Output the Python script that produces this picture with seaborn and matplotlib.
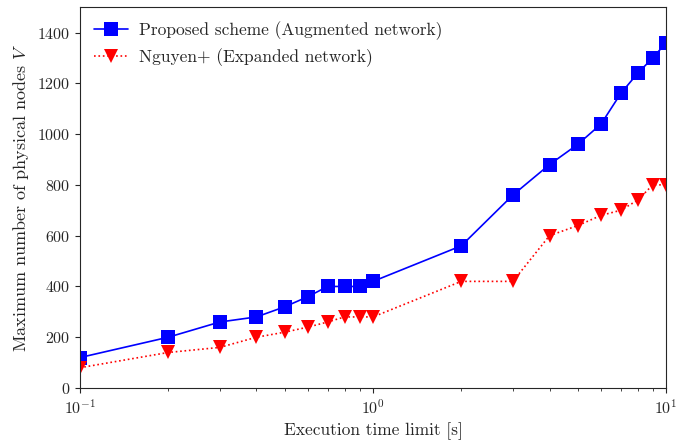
import pandas as pd
import seaborn as sns
import matplotlib.pyplot as plt

# execution time limits [s]
time_limit = [0.1, 0.2, 0.3, 0.4, 0.5, 0.6, 0.7, 0.8, 0.9, 1,
              2, 3, 4, 5, 6, 7, 8, 9, 10]
proposed = [120, 200, 260, 280, 320, 360, 400, 400, 400, 420,
            560, 760, 880, 960, 1040, 1160, 1240, 1300, 1360]
nguyen = [80, 140, 160, 200, 220, 240, 260, 280, 280, 280,
          420, 420, 600, 640, 680, 700, 740, 800, 800]

sns.set_style("ticks")
plt.rcParams["font.family"] = "serif"
plt.rcParams["font.serif"] = ["cmr10"]
plt.rcParams["mathtext.fontset"] = "cm"
plt.rcParams["axes.formatter.use_mathtext"] = True
plt.rcParams["axes.unicode_minus"] = False

df = pd.DataFrame({"t": time_limit, "proposed": proposed, "nguyen": nguyen})

fig = plt.figure(figsize=(6.77, 4.45), dpi=100)
ax = fig.add_axes([0.118, 0.128, 0.866, 0.856])

sns.lineplot(data=df, x="t", y="proposed", ax=ax, color="blue", marker="s",
             markersize=10.5, markeredgewidth=0, linewidth=1.2,
             label="Proposed scheme (Augmented network)")
sns.lineplot(data=df, x="t", y="nguyen", ax=ax, color="red", marker="v",
             markersize=10.5, markeredgewidth=0, linewidth=1.2, linestyle=":",
             label="Nguyen+ (Expanded network)")

ax.set_xscale("log")
ax.set_xlim(0.1, 10)
ax.set_ylim(0, 1500)
ax.set_yticks(range(0, 1401, 200))
ax.set_xlabel("Execution time limit [s]", fontsize=12.5)
ax.set_ylabel("Maximum number of physical nodes $V$", fontsize=13)
ax.tick_params(labelsize=11.5)
for s in ax.spines.values():
    s.set_visible(True)
ax.legend(loc="upper left", frameon=False, fontsize=12.5, handletextpad=0.6,
          borderaxespad=0.4)

plt.savefig("out.png", dpi=100)
